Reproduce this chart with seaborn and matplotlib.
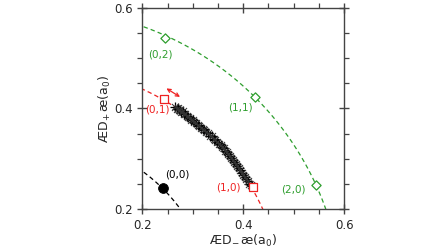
import numpy as np
import pandas as pd
import matplotlib
matplotlib.use("Agg")
import matplotlib.pyplot as plt
import seaborn as sns

# radii of the dashed guide arcs
arc_radius = [0.34, 0.482, 0.598]
arc_color = ["black", "#ee2222", "#2e9e2e"]

# level markers
lvl_labels = ["(0,0)", "(0,1)", "(1,0)", "(0,2)", "(1,1)", "(2,0)"]
lvl_x = [0.241, 0.242, 0.419, 0.244, 0.423, 0.544]
lvl_y = [0.242, 0.419, 0.243, 0.541, 0.422, 0.248]
lvl_group = ["n0", "n1", "n1", "n2", "n2", "n2"]
lbl_x = [0.270, 0.229, 0.370, 0.236, 0.394, 0.499]
lbl_y = [0.268, 0.397, 0.242, 0.507, 0.401, 0.238]

# simulated points (black band)
band_x = [0.265, 0.268, 0.270, 0.272, 0.275, 0.277, 0.280, 0.282, 0.285, 0.288,
          0.291, 0.294, 0.297, 0.300, 0.303, 0.307, 0.310, 0.313, 0.317, 0.320,
          0.323, 0.327, 0.330, 0.334, 0.337, 0.341, 0.344, 0.348, 0.351, 0.355,
          0.358, 0.361, 0.364, 0.367, 0.370, 0.373, 0.376, 0.379, 0.382, 0.385,
          0.388, 0.391, 0.394, 0.397, 0.400, 0.403, 0.406, 0.409, 0.412, 0.415, 0.417]
band_y = [0.402, 0.398, 0.401, 0.396, 0.397, 0.393, 0.394, 0.389, 0.389, 0.386,
          0.383, 0.382, 0.378, 0.377, 0.373, 0.372, 0.367, 0.366, 0.362, 0.359,
          0.357, 0.353, 0.351, 0.346, 0.345, 0.340, 0.338, 0.334, 0.330, 0.328,
          0.323, 0.321, 0.316, 0.313, 0.310, 0.305, 0.302, 0.298, 0.293, 0.290,
          0.285, 0.281, 0.277, 0.271, 0.268, 0.263, 0.259, 0.255, 0.250, 0.247, 0.245]

major_ticks = [0.2, 0.4, 0.6]
minor_ticks = [0.25, 0.3, 0.35, 0.45, 0.5, 0.55]
tick_labels = ["0.2", "0.4", "0.6"]

sns.set_style("ticks")
plt.rcParams['font.family'] = ['DejaVu Sans']

fig = plt.figure(figsize=(4.48, 2.52), dpi=100)
ax = fig.add_axes([0.318, 0.171, 0.450, 0.797])

th = np.linspace(0, np.pi / 2, 200)
for r, c in zip(arc_radius, arc_color):
    ax.plot(r * np.cos(th), r * np.sin(th), color=c, lw=0.9, ls=(0, (3.5, 2.5)), zorder=1)

band = pd.DataFrame({"x": band_x, "y": band_y})
sns.scatterplot(data=band, x="x", y="y", marker="+", s=42, color="black",
                linewidth=0.9, ax=ax, zorder=3)
sns.scatterplot(data=band, x="x", y="y", marker="x", s=26, color="#333333",
                linewidth=0.7, ax=ax, zorder=3)

lv = pd.DataFrame({"x": lvl_x, "y": lvl_y, "g": lvl_group})
sns.scatterplot(data=lv[lv.g == "n0"], x="x", y="y", marker="o", s=50,
                color="black", edgecolor="black", ax=ax, zorder=4)
sns.scatterplot(data=lv[lv.g == "n1"], x="x", y="y", marker="s", s=32,
                facecolor="white", edgecolor=arc_color[1], linewidth=0.9, ax=ax, zorder=4)
sns.scatterplot(data=lv[lv.g == "n2"], x="x", y="y", marker="D", s=22,
                facecolor="white", edgecolor=arc_color[2], linewidth=0.9, ax=ax, zorder=4)

grp_col = {"n0": "black", "n1": arc_color[1], "n2": arc_color[2]}
for t, x, y, g in zip(lvl_labels, lbl_x, lbl_y, lvl_group):
    ax.text(x, y, t, color=grp_col[g], fontsize=7.5, ha="center", va="center")

ax.annotate("", xy=(0.2475, 0.4400), xytext=(0.2745, 0.4230),
            arrowprops=dict(arrowstyle="<->", color=arc_color[1], lw=0.9,
                            mutation_scale=6, shrinkA=0, shrinkB=0))

ax.set_xlim(0.2, 0.6)
ax.set_ylim(0.2, 0.6)
ax.set_xticks(major_ticks)
ax.set_yticks(major_ticks)
ax.set_xticks(minor_ticks, minor=True)
ax.set_yticks(minor_ticks, minor=True)
ax.set_xticklabels(tick_labels)
ax.set_yticklabels(tick_labels)
ax.tick_params(which="both", top=True, right=True, labelsize=8.5, color="#444444")
ax.tick_params(which="major", direction="inout", length=7, width=1.0)
ax.tick_params(which="minor", direction="out", length=3.5, width=0.9)
for s in ax.spines.values():
    s.set_color("#444444")
    s.set_linewidth(1.0)

ax.set_xlabel("ÆD$_{\\!-}$æ(a$_0$)", fontsize=9, labelpad=1)
ax.set_ylabel("ÆD$_{\\!+}$æ(a$_0$)", fontsize=9, labelpad=1)
fig.savefig("out.png", dpi=100)
